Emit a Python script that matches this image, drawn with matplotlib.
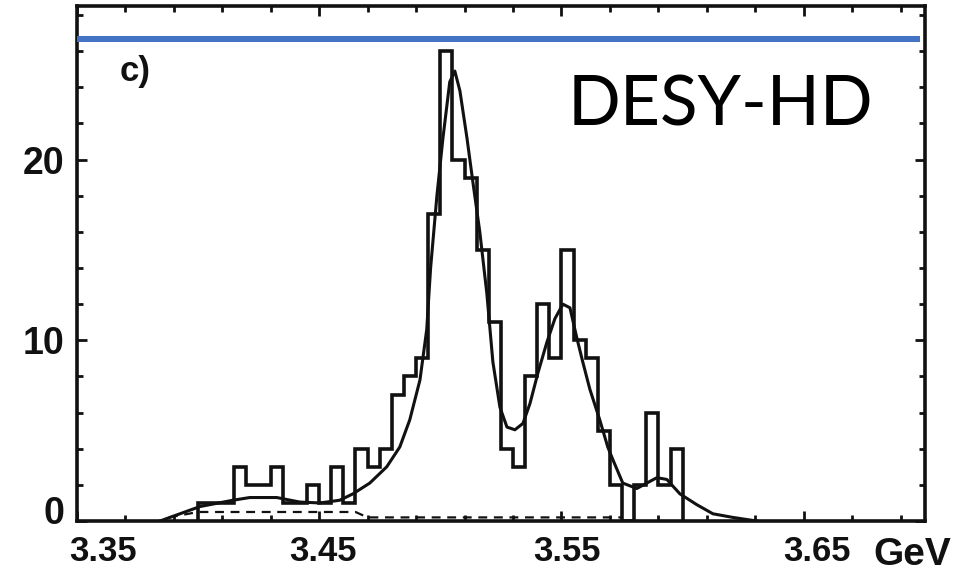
import numpy as np
import matplotlib.pyplot as plt
from matplotlib.lines import Line2D
from matplotlib.transforms import ScaledTranslation

# histogram: 5 MeV bins starting at 3.400 GeV
bin_start = 3.400
bin_width = 0.005
counts = [1, 1, 1, 3, 2, 2, 3, 1, 1, 2,
          1, 3, 1, 4, 3, 4, 7, 8, 9, 17,
          26, 20, 19, 15, 11, 4, 3, 8, 12, 9,
          15, 10, 9, 5, 2, 0, 2, 6, 2, 4]

# fitted curve
fit_x = [3.3843, 3.4008, 3.4144, 3.4214, 3.4325, 3.4420, 3.4503, 3.4585, 3.4639, 3.4709,
         3.4779, 3.4833, 3.4874, 3.4916, 3.4944, 3.4960, 3.4986, 3.5011, 3.5039, 3.5060,
         3.5081, 3.5110, 3.5134, 3.5163, 3.5192, 3.5217, 3.5246, 3.5275, 3.5308, 3.5341,
         3.5370, 3.5403, 3.5440, 3.5473, 3.5506, 3.5535, 3.5564, 3.5588, 3.5617, 3.5658,
         3.5691, 3.5712, 3.5753, 3.5811, 3.5852, 3.5894, 3.5935, 3.5989, 3.6059, 3.6125,
         3.6207, 3.6306]
fit_y = [0.0, 0.8, 1.15, 1.3, 1.3, 1.05, 1.0, 1.15, 1.5, 2.1,
         3.0, 4.1, 5.6, 7.8, 10.6, 14.0, 18.0, 21.2, 24.3, 24.9,
         23.8, 21.2, 18.8, 16.0, 12.6, 8.8, 6.3, 5.2, 5.05, 5.4,
         6.5, 8.2, 9.9, 11.2, 12.0, 11.8, 10.1, 8.8, 7.3, 5.6,
         4.1, 3.4, 2.1, 1.8, 2.1, 2.4, 2.3, 1.5, 0.9, 0.4,
         0.2, 0.0]

# dashed background
bg_x = [3.388, 3.400, 3.465, 3.470, 3.575]
bg_y = [0.2, 0.5, 0.5, 0.2, 0.2]

x_labels = ['3.35', '3.45', '3.55', '3.65']
y_labels = ['0', '10', '20']

ink = '#111111'
scan_font = 'Liberation Sans'

fig = plt.figure(figsize=(9.6, 5.74), dpi=100)
ax = fig.add_axes([0.080, 0.0923, 0.8835, 0.8972])

edges = bin_start + bin_width * np.arange(len(counts) + 1)
ax.stairs(counts, edges, baseline=0, color=ink, linewidth=2.6)
ax.plot(fit_x, fit_y, color=ink, linewidth=2.2)
ax.plot(bg_x, bg_y, color=ink, linewidth=1.6, linestyle=(0, (4, 3)))

ax.set_xlim(3.35, 3.70)
ax.set_ylim(0, 28.5)

ax.set_xticks([3.35, 3.45, 3.55, 3.65])
ax.set_xticklabels(x_labels, fontsize=25, fontweight='bold', family=scan_font)
ax.set_xticks(np.arange(3.35, 3.695, 0.02), minor=True)
ax.set_yticks([0, 10, 20])
ax.set_yticklabels(y_labels, fontsize=27, fontweight='bold', family=scan_font)
ax.set_yticks(np.arange(0, 28.5, 2), minor=True)

ax.tick_params(which='both', direction='in', top=True, right=True,
               width=2, color=ink, labelcolor=ink)
ax.tick_params(which='major', length=7)
ax.tick_params(which='minor', length=4)
ax.tick_params(axis='x', pad=10)
ax.tick_params(axis='y', pad=9)
for s in ax.spines.values():
    s.set_linewidth(2.6)
    s.set_color(ink)

# nudge tick labels like the scan
shifts = [26, 4, 5, 13]
for lab, dx in zip(ax.get_xticklabels(), shifts):
    lab.set_transform(lab.get_transform() + ScaledTranslation(dx / 100, 0, fig.dpi_scale_trans))
zero = ax.get_yticklabels()[0]
zero.set_transform(zero.get_transform() + ScaledTranslation(0, 0.11, fig.dpi_scale_trans))

ax.text(3.3677, 24.9, 'c)', fontsize=25, fontweight='bold', family=scan_font,
        color=ink, ha='left', va='center')
fig.text(873 / 960, 1 - 565 / 574, 'GeV', fontsize=28, fontweight='bold',
         family=scan_font, color=ink, va='baseline')

# blue bar and label overlaid on the scan
fig.add_artist(Line2D([80 / 960, 917 / 960], [1 - 39 / 574, 1 - 39 / 574],
                      color='#4472C4', linewidth=4.3))
fig.text(568 / 960, 1 - 125 / 574, 'DESY-HD', fontsize=50, family='Lato',
         color='black', va='baseline')

fig.savefig('out.png', dpi=100)
